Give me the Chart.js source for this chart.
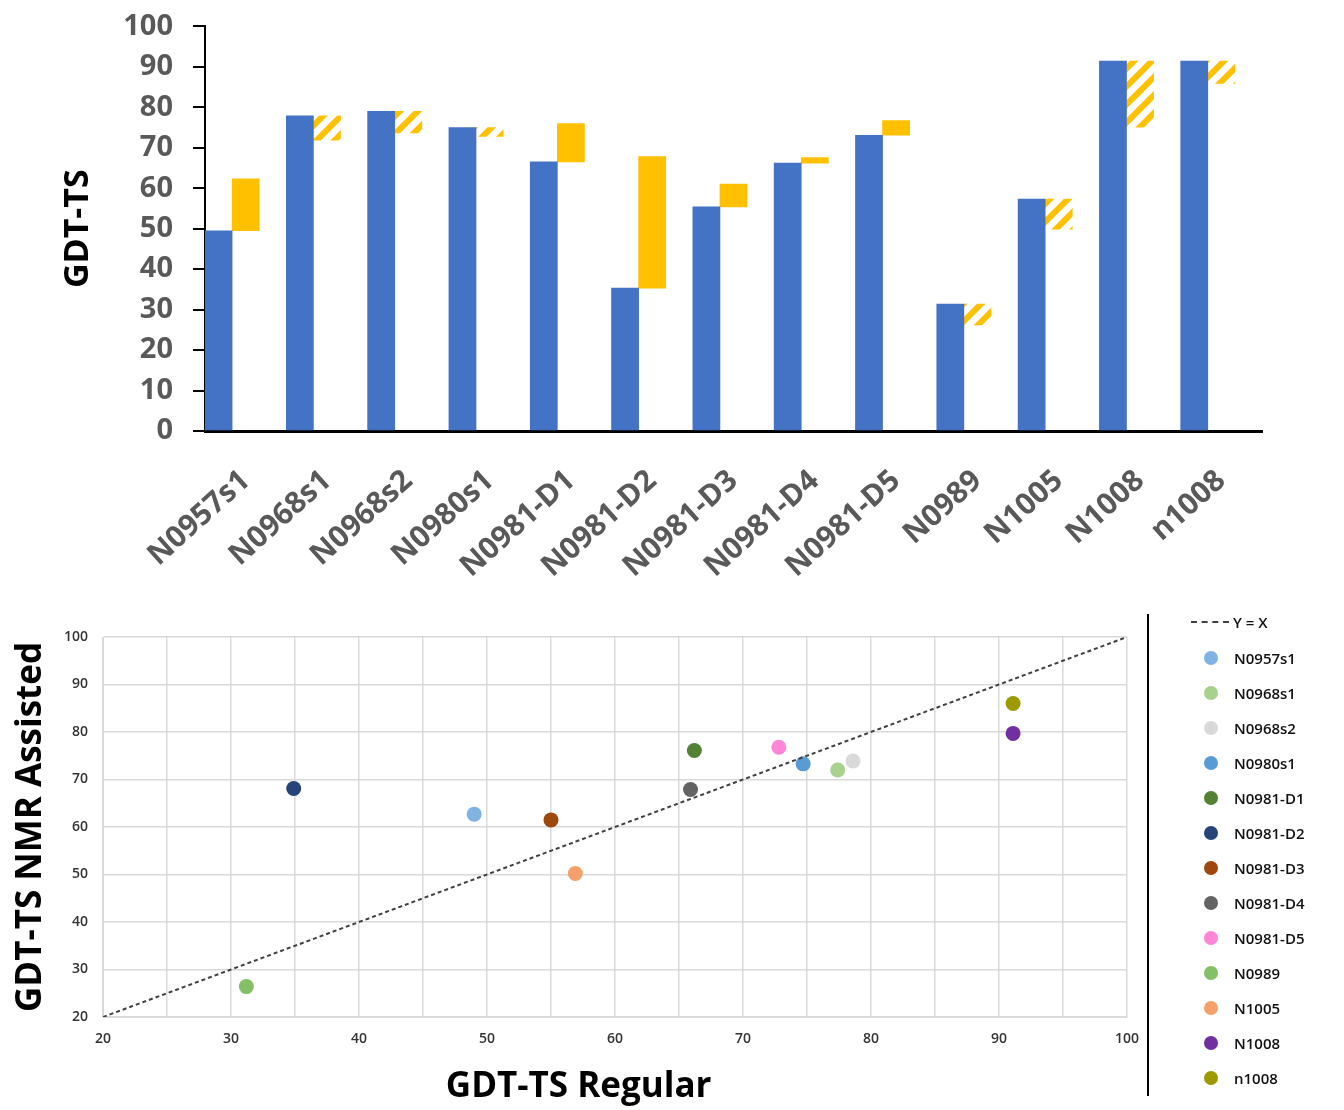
<!DOCTYPE html>
<html>
<head>
<meta charset="utf-8">
<script src="https://cdn.jsdelivr.net/npm/chart.js@4.4.1/dist/chart.umd.min.js"></script>
<style>
  body { margin: 0; background: #fff; width: 1344px; height: 1110px; position: relative; overflow: hidden; font-family: "Open Sans", sans-serif; }
  #top { position: absolute; left: 0; top: -11px; }
  #bottom { position: absolute; left: 0; top: 595px; }
  #legend { position: absolute; left: 1147px; top: 614px; width: 190px; height: 482px; border-left: 2px solid #000; }
  .item { position: absolute; left: 50px; height: 20px; display: flex; align-items: center; font-size: 15px; font-weight: 600; color: #111; }
  .dot { width: 14px; height: 14px; border-radius: 50%; margin-right: 16px; margin-left: 5px; }
  .dash { width: 38px; border-top: 2px dashed #404040; margin-right: 4px; margin-left: -8px; }
</style>
</head>
<body>
<canvas id="top" width="1344" height="601"></canvas>
<canvas id="bottom" width="1153" height="515"></canvas>
<div id="legend"></div>
<script>
const categories = ["N0957s1", "N0968s1", "N0968s2", "N0980s1", "N0981-D1", "N0981-D2", "N0981-D3", "N0981-D4", "N0981-D5", "N0989", "N1005", "N1008", "n1008"];

// top chart: regular bar height and NMR-assisted value (end of yellow bar)
const regularBar = [49.5, 77.9, 79.0, 75.0, 66.5, 35.3, 55.4, 66.2, 73.1, 31.4, 57.3, 91.4, 91.4];
const nmrBar = [62.3, 71.9, 73.7, 72.8, 76.0, 67.8, 61.0, 67.6, 76.7, 26.2, 49.9, 75.1, 85.9];
const barTicks = [0, 10, 20, 30, 40, 50, 60, 70, 80, 90, 100];

// bottom chart: scatter points
const regularPts = [49.0, 77.4, 78.6, 74.7, 66.2, 34.9, 55.0, 65.9, 72.8, 31.2, 56.9, 91.1, 91.1];
const nmrPts = [62.7, 72.0, 73.9, 73.3, 76.1, 68.1, 61.5, 67.9, 76.8, 26.4, 50.2, 79.7, 86.0];
const pointColors = ["#7fb3e3", "#a9d18e", "#d9d9d9", "#5b9bd5", "#548235", "#264478", "#9e480e", "#636363", "#ff85d6", "#84c166", "#f4a06b", "#7030a0", "#9c9a00"];
const diagonal = [20, 100];

const blue = "#4472c4";
const gold = "#ffc000";

function makeHatch(ctx) {
  const s = 18;
  const c = document.createElement("canvas");
  c.width = s; c.height = s;
  const g = c.getContext("2d");
  g.strokeStyle = gold;
  g.lineWidth = 6;
  g.beginPath();
  g.moveTo(-4, s + 4); g.lineTo(s + 4, -4);
  g.moveTo(-4, 4); g.lineTo(4, -4);
  g.moveTo(s - 4, s + 4); g.lineTo(s + 4, s - 4);
  g.stroke();
  return ctx.createPattern(c, "repeat");
}

const topCtx = document.getElementById("top").getContext("2d");
const hatch = makeHatch(topCtx);

new Chart(topCtx, {
  type: "bar",
  data: {
    labels: categories,
    datasets: [
      { label: "Regular", data: regularBar, backgroundColor: blue },
      {
        label: "NMR assisted",
        data: regularBar.map((r, i) => [r, nmrBar[i]]),
        backgroundColor: c => (nmrBar[c.dataIndex] >= regularBar[c.dataIndex] ? gold : hatch)
      },
      { label: "", data: categories.map(() => null) }
    ]
  },
  options: {
    responsive: false,
    animation: false,
    layout: { padding: { left: 40, top: 14, right: 82, bottom: 0 } },
    plugins: { legend: { display: false }, tooltip: { enabled: false } },
    datasets: { bar: { categoryPercentage: 1.0, barPercentage: 1.0 } },
    scales: {
      x: {
        grid: { display: false, drawTicks: false },
        border: { color: "#000", width: 3 },
        ticks: {
          autoSkip: false, minRotation: 42, maxRotation: 42, padding: 32,
          color: "#595959", font: { family: "Open Sans", size: 30, weight: "bold" }
        },
        afterFit: s => { s.height = 159; }
      },
      y: {
        min: 0, max: 100,
        afterBuildTicks: s => { s.ticks = barTicks.map(v => ({ value: v })); },
        grid: { drawOnChartArea: false, drawTicks: true, tickLength: 12, color: "#000", lineWidth: 2 },
        border: { color: "#000", width: 2 },
        ticks: { padding: 20, color: "#595959", font: { family: "Open Sans", size: 29, weight: "bold" } },
        title: { display: true, text: "GDT-TS", color: "#000", padding: { top: 18, bottom: 0 }, font: { family: "Open Sans", size: 34, weight: "bold" } },
        afterFit: s => { s.width = 165; }
      }
    }
  }
});

const scatterSets = categories.map((name, i) => ({
  type: "scatter",
  label: name,
  data: [{ x: regularPts[i], y: nmrPts[i] }],
  backgroundColor: pointColors[i],
  borderColor: pointColors[i],
  pointRadius: 7.5,
  borderWidth: 0
}));

new Chart(document.getElementById("bottom"), {
  type: "scatter",
  data: {
    datasets: [
      {
        type: "line",
        label: "Y = X",
        data: diagonal.map(v => ({ x: v, y: v })),
        borderColor: "#404040",
        borderWidth: 2,
        borderDash: [4, 3],
        pointRadius: 0
      },
      ...scatterSets
    ]
  },
  options: {
    responsive: false,
    animation: false,
    layout: { padding: { left: 0, top: 42, right: 16, bottom: 0 } },
    plugins: { legend: { display: false }, tooltip: { enabled: false } },
    scales: {
      x: {
        type: "linear", min: 20, max: 100,
        grid: { color: "#d9d9d9", lineWidth: 1.5, drawTicks: false },
        border: { color: "#d9d9d9" },
        ticks: {
          stepSize: 5, padding: 14, color: "#333",
          font: { family: "Open Sans", size: 14, weight: "600" },
          callback: v => (v % 10 === 0 ? v : "")
        },
        // trailing spaces shift the centred title a little to the left, as in the source
        title: { display: true, text: "GDT-TS Regular\u00a0\u00a0\u00a0\u00a0\u00a0\u00a0\u00a0\u00a0", color: "#000", padding: { top: 0, bottom: 2 }, font: { family: "Open Sans", size: 35, weight: "bold" } },
        afterFit: s => { s.height = 93; }
      },
      y: {
        min: 20, max: 100,
        grid: { color: "#d9d9d9", lineWidth: 1.5, drawTicks: false },
        border: { color: "#d9d9d9" },
        ticks: { stepSize: 10, padding: 15, color: "#333", font: { family: "Open Sans", size: 14, weight: "600" } },
        title: { display: true, text: "GDT-TS NMR Assisted", color: "#000", padding: { top: 10, bottom: 0 }, font: { family: "Open Sans", size: 35, weight: "bold" } },
        afterFit: s => { s.width = 103; }
      }
    }
  }
});

// legend at the right of the scatter chart
const legend = document.getElementById("legend");
const first = document.createElement("div");
first.className = "item";
first.style.top = "-2px";
first.innerHTML = '<span class="dash"></span>Y = X';
legend.appendChild(first);
categories.forEach((name, i) => {
  const el = document.createElement("div");
  el.className = "item";
  el.style.top = (34 + 35 * i) + "px";
  el.innerHTML = `<span class="dot" style="background:${pointColors[i]}"></span>${name}`;
  legend.appendChild(el);
});
</script>
</body>
</html>
